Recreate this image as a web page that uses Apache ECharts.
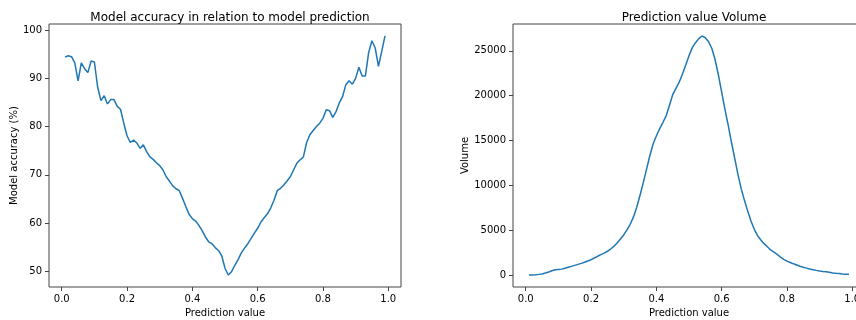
<!DOCTYPE html>
<html>
<head>
<meta charset="utf-8">
<script src="https://cdn.jsdelivr.net/npm/echarts@6/dist/echarts.min.js"></script>
<style>
html,body{margin:0;padding:0;background:#fff;}
#chart{width:856px;height:320px;}
</style>
</head>
<body>
<div id="chart"></div>
<script>
// ---- data ----
const predictionValues = [
  0.01,0.02,0.03,0.04,0.05,0.06,0.07,0.08,0.09,0.10,
  0.11,0.12,0.13,0.14,0.15,0.16,0.17,0.18,0.19,0.20,
  0.21,0.22,0.23,0.24,0.25,0.26,0.27,0.28,0.29,0.30,
  0.31,0.32,0.33,0.34,0.35,0.36,0.37,0.38,0.39,0.40,
  0.41,0.42,0.43,0.44,0.45,0.46,0.47,0.48,0.49,0.50,
  0.51,0.52,0.53,0.54,0.55,0.56,0.57,0.58,0.59,0.60,
  0.61,0.62,0.63,0.64,0.65,0.66,0.67,0.68,0.69,0.70,
  0.71,0.72,0.73,0.74,0.75,0.76,0.77,0.78,0.79,0.80,
  0.81,0.82,0.83,0.84,0.85,0.86,0.87,0.88,0.89,0.90,
  0.91,0.92,0.93,0.94,0.95,0.96,0.97,0.98,0.99
];
const accuracyValues = [
  94.4,94.7,94.5,93.2,89.5,93.2,92.0,91.2,93.6,93.4,
  88.2,85.4,86.4,84.7,85.6,85.6,84.2,83.6,80.7,78.1,
  76.7,77.2,76.6,75.5,76.2,74.8,73.7,73.2,72.5,71.9,
  71.0,69.6,68.7,67.7,67.1,66.7,65.1,63.4,61.8,60.9,
  60.4,59.5,58.4,57.1,56.1,55.7,54.9,54.3,53.2,50.6,
  49.2,49.9,51.2,52.4,53.8,54.8,55.7,56.8,57.9,58.9,
  60.2,61.1,61.9,63.1,64.7,66.7,67.2,67.9,68.7,69.6,
  71.0,72.4,73.1,73.7,76.7,78.3,79.2,80.0,80.7,81.7,
  83.5,83.3,81.9,83.1,84.9,86.2,88.7,89.5,88.8,90.0,
  92.3,90.5,90.5,95.4,97.8,96.3,92.5,95.6,98.8
];
const volumeValues = [
  0,10,40,75,120,220,340,480,590,630,
  660,750,860,970,1080,1190,1300,1420,1560,1710,
  1900,2090,2270,2450,2650,2900,3200,3580,4020,4470,
  5030,5660,6480,7560,8900,10300,11800,13300,14600,15500,
  16300,17000,17750,18900,20100,20800,21500,22400,23400,24450,
  25350,25900,26350,26650,26450,26000,25250,24000,22300,20400,
  18500,16700,14800,13000,11200,9600,8300,7100,6000,5100,
  4400,3900,3500,3150,2800,2550,2300,2000,1750,1550,
  1400,1250,1120,980,870,770,680,600,520,450,
  400,360,300,230,190,160,120,100,80
];
const xTicks = [0.0,0.2,0.4,0.6,0.8,1.0];
const accuracyTicks = [50,60,70,80,90,100];
const volumeTicks = [0,5000,10000,15000,20000,25000];
const titles = ['Model accuracy in relation to model prediction','Prediction value Volume'];
const xName = 'Prediction value';
const yNames = ['Model accuracy (%)','Volume'];

// ---- chart ----
const FONT = 'DejaVu Sans';
const TXT = '#000';
const AXC = '#444';
function pad(arr){
  const mn = Math.min(...arr), mx = Math.max(...arr), m = (mx-mn)*0.05;
  return [mn-m, mx+m];
}
const xr = pad(predictionValues);
const ar = pad(accuracyValues);
const vr = pad(volumeValues);

function xAxis(gi){
  return {
    type:'value', gridIndex:gi, min:xr[0], max:xr[1],
    splitLine:{show:false},
    axisLine:{show:false, onZero:false},
    axisTick:{show:true, inside:false, length:4, customValues:xTicks, lineStyle:{color:AXC,width:1}},
    axisLabel:{show:true, customValues:xTicks, margin:7, color:TXT, fontFamily:FONT, fontSize:10,
      hideOverlap:false, formatter:v=>Number(v).toFixed(1)},
    name:xName, nameLocation:'middle', nameGap:21,
    nameTextStyle:{color:TXT, fontFamily:FONT, fontSize:10}
  };
}
function yAxis(gi, r, ticks, name, gap){
  return {
    type:'value', gridIndex:gi, min:r[0], max:r[1],
    splitLine:{show:false},
    axisLine:{show:false, onZero:false},
    axisTick:{show:true, inside:false, length:4, customValues:ticks, lineStyle:{color:AXC,width:1}},
    axisLabel:{show:true, customValues:ticks, margin:7, color:TXT, fontFamily:FONT, fontSize:10,
      formatter:v=>String(Math.round(v))},
    name:name, nameLocation:'middle', nameGap:gap, nameRotate:90,
    nameTextStyle:{color:TXT, fontFamily:FONT, fontSize:10}
  };
}
const chart = echarts.init(document.getElementById('chart'), null, {renderer:'canvas'});
chart.setOption({
  animation:false,
  backgroundColor:'#fff',
  title:[
    {text:titles[0], left:225, top:7, textAlign:'center',
     textStyle:{fontFamily:FONT, fontSize:12, fontWeight:'normal', color:TXT}},
    {text:titles[1], left:689, top:7, textAlign:'center',
     textStyle:{fontFamily:FONT, fontSize:12, fontWeight:'normal', color:TXT}}
  ],
  grid:[
    {left:49, top:24, width:352, height:263, show:true, borderColor:AXC, borderWidth:1,
     backgroundColor:'transparent', containLabel:false, outerBoundsMode:'none'},
    {left:513, top:24, width:352, height:263, show:true, borderColor:AXC, borderWidth:1,
     backgroundColor:'transparent', containLabel:false, outerBoundsMode:'none'}
  ],
  xAxis:[xAxis(0), xAxis(1)],
  yAxis:[yAxis(0, ar, accuracyTicks, yNames[0], 29), yAxis(1, vr, volumeTicks, yNames[1], 43)],
  series:[
    {type:'line', xAxisIndex:0, yAxisIndex:0, showSymbol:false, smooth:false,
     lineStyle:{color:'#1f77b4', width:1.5}, itemStyle:{color:'#1f77b4'},
     data:predictionValues.map((x,i)=>[x, accuracyValues[i]])},
    {type:'line', xAxisIndex:1, yAxisIndex:1, showSymbol:false, smooth:false,
     lineStyle:{color:'#1f77b4', width:1.5}, itemStyle:{color:'#1f77b4'},
     data:predictionValues.map((x,i)=>[x, volumeValues[i]])}
  ]
});
</script>
</body>
</html>
